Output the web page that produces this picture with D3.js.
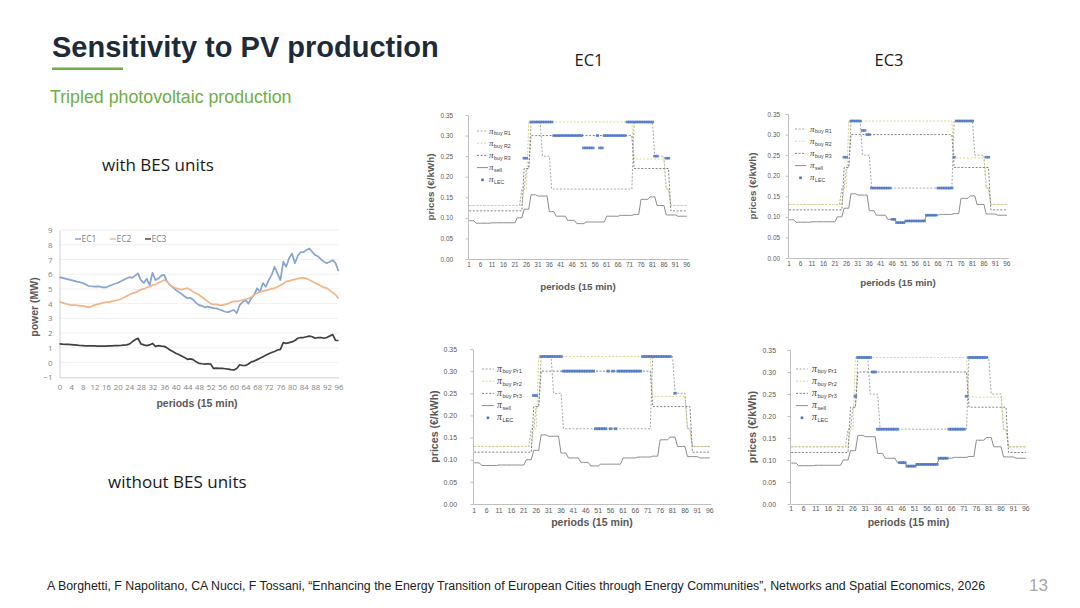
<!DOCTYPE html>
<html>
<head>
<meta charset="utf-8">
<script src="https://cdn.jsdelivr.net/npm/d3@7"></script>
<style>
  html, body { margin: 0; padding: 0; background: #fff; }
  svg { display: block; font-family: "Liberation Sans", Arial, sans-serif; }
</style>
</head>
<body>
<svg id="slide" width="1080" height="608"></svg>
<script>
// ---- data ---------------------------------------------------------------

// power chart (left): periods 0..96
const powerPeriods = d3.range(0, 97);
const powerXTicks = [0, 4, 8, 12, 16, 20, 24, 28, 32, 36, 40, 44, 48, 52, 56, 60, 64, 68, 72, 76, 80, 84, 88, 92, 96];
const powerYTicks = [-1, 0, 1, 2, 3, 4, 5, 6, 7, 8, 9];
const powerSeries = ["EC1", "EC2", "EC3"];

const ec1 = [5.8, 5.75, 5.7, 5.65, 5.6, 5.55, 5.5, 5.45, 5.4, 5.3, 5.2, 5.18, 5.15,
  5.17, 5.15, 5.1, 5.1, 5.2, 5.27, 5.35, 5.4, 5.5, 5.6, 5.7, 5.8, 5.75,
  5.9, 6.05, 5.6, 5.4, 5.7, 5.25, 6.1, 5.6, 5.7, 5.9, 5.95, 5.5, 5.27,
  5.1, 4.93, 4.8, 4.66, 4.5, 4.37, 4.4, 4.25, 4.05, 3.9, 3.85, 3.75, 3.8,
  3.75, 3.7, 3.68, 3.6, 3.53, 3.45, 3.42, 3.5, 3.57, 3.35, 3.9, 4.1, 4.25,
  4.0, 4.37, 4.6, 5.05, 4.8, 5.4, 5.15, 5.6, 5.95, 6.5, 6.05, 5.6, 6.85,
  6.5, 7.08, 7.4, 6.75, 7.25, 7.5, 7.5, 7.65, 7.75, 7.5, 7.3, 7.2, 7.0,
  6.85, 6.75, 6.85, 6.95, 6.75, 6.2];
const ec2 = [4.15, 4.05, 4.0, 3.95, 3.9, 3.9, 3.88, 3.85, 3.85, 3.8, 3.75, 3.8, 3.9,
  3.95, 4.0, 4.05, 4.1, 4.1, 4.15, 4.2, 4.25, 4.3, 4.4, 4.5, 4.6, 4.7,
  4.75, 4.85, 4.95, 5.0, 5.1, 5.15, 5.27, 5.3, 5.4, 5.5, 5.6, 5.5, 5.27,
  5.15, 5.05, 5.0, 4.95, 5.0, 5.05, 4.95, 4.8, 4.7, 4.6, 4.45, 4.3, 4.15,
  4.0, 3.95, 3.95, 3.9, 3.9, 3.95, 4.0, 4.1, 4.15, 4.15, 4.2, 4.25, 4.3,
  4.35, 4.45, 4.6, 4.7, 4.8, 4.85, 4.9, 4.95, 5.0, 5.05, 5.15, 5.25, 5.35,
  5.5, 5.55, 5.6, 5.65, 5.7, 5.75, 5.75, 5.7, 5.6, 5.5, 5.4, 5.3, 5.2,
  5.1, 5.05, 4.9, 4.75, 4.6, 4.35];
const ec3 = [1.27, 1.25, 1.24, 1.23, 1.22, 1.2, 1.18, 1.16, 1.15, 1.14, 1.13, 1.13, 1.13,
  1.12, 1.12, 1.12, 1.12, 1.13, 1.14, 1.15, 1.15, 1.16, 1.18, 1.2, 1.25, 1.4,
  1.55, 1.65, 1.27, 1.2, 1.15, 1.2, 1.3, 1.1, 1.15, 1.12, 1.1, 1.0, 0.85,
  0.75, 0.63, 0.55, 0.45, 0.35, 0.22, 0.25, 0.2, 0.05, -0.05, -0.08, -0.1, -0.08,
  -0.1, -0.4, -0.38, -0.4, -0.4, -0.42, -0.45, -0.48, -0.5, -0.4, -0.15, -0.2, -0.2,
  -0.1, 0.05, 0.1, 0.2, 0.3, 0.4, 0.5, 0.6, 0.68, 0.75, 0.85, 0.9, 1.35,
  1.3, 1.35, 1.4, 1.5, 1.65, 1.7, 1.7, 1.75, 1.8, 1.75, 1.65, 1.7, 1.7,
  1.65, 1.7, 1.8, 1.9, 1.5, 1.5];

// price charts: periods 1..96 (category axis)
const pricePeriods = d3.range(1, 97);
const priceXTicks = [1, 6, 11, 16, 21, 26, 31, 36, 41, 46, 51, 56, 61, 66, 71, 76, 81, 86, 91, 96];
const priceYTicks = [0, 0.05, 0.10, 0.15, 0.20, 0.25, 0.30, 0.35];

// buy / sell prices, same in all four price charts (12 periods per row)
const buy1 = [
  0.13, 0.13, 0.13, 0.13, 0.13, 0.13, 0.13, 0.13, 0.13, 0.13, 0.13, 0.13,
  0.13, 0.13, 0.13, 0.13, 0.13, 0.13, 0.13, 0.13, 0.13, 0.13, 0.13, 0.17,
  0.17, 0.22, 0.22, 0.333, 0.333, 0.333, 0.333, 0.333, 0.25, 0.25, 0.25, 0.25,
  0.17, 0.17, 0.17, 0.17, 0.17, 0.17, 0.17, 0.17, 0.17, 0.17, 0.17, 0.17,
  0.17, 0.17, 0.17, 0.17, 0.17, 0.17, 0.17, 0.17, 0.17, 0.17, 0.17, 0.17,
  0.17, 0.17, 0.17, 0.17, 0.17, 0.17, 0.17, 0.17, 0.17, 0.17, 0.17, 0.17,
  0.333, 0.333, 0.333, 0.333, 0.333, 0.333, 0.333, 0.333, 0.333, 0.25, 0.25, 0.25,
  0.25, 0.25, 0.17, 0.17, 0.13, 0.13, 0.13, 0.13, 0.13, 0.13, 0.13, 0.13];
const buy2 = [
  0.13, 0.13, 0.13, 0.13, 0.13, 0.13, 0.13, 0.13, 0.13, 0.13, 0.13, 0.13,
  0.13, 0.13, 0.13, 0.13, 0.13, 0.13, 0.13, 0.13, 0.13, 0.13, 0.13, 0.13,
  0.17, 0.17, 0.333, 0.333, 0.333, 0.333, 0.333, 0.333, 0.333, 0.333, 0.333, 0.333,
  0.333, 0.333, 0.333, 0.333, 0.333, 0.333, 0.333, 0.333, 0.333, 0.333, 0.333, 0.333,
  0.333, 0.333, 0.333, 0.333, 0.333, 0.333, 0.333, 0.333, 0.333, 0.333, 0.333, 0.333,
  0.333, 0.333, 0.333, 0.333, 0.333, 0.333, 0.333, 0.333, 0.333, 0.333, 0.333, 0.333,
  0.243, 0.243, 0.243, 0.243, 0.243, 0.243, 0.243, 0.243, 0.243, 0.243, 0.243, 0.243,
  0.243, 0.243, 0.17, 0.17, 0.13, 0.13, 0.13, 0.13, 0.13, 0.13, 0.13, 0.13];
const buy3 = [
  0.117, 0.117, 0.117, 0.117, 0.117, 0.117, 0.117, 0.117, 0.117, 0.117, 0.117, 0.117,
  0.117, 0.117, 0.117, 0.117, 0.117, 0.117, 0.117, 0.117, 0.117, 0.117, 0.117, 0.117,
  0.22, 0.22, 0.22, 0.30, 0.30, 0.30, 0.30, 0.30, 0.30, 0.30, 0.30, 0.30,
  0.30, 0.30, 0.30, 0.30, 0.30, 0.30, 0.30, 0.30, 0.30, 0.30, 0.30, 0.30,
  0.30, 0.30, 0.30, 0.30, 0.30, 0.30, 0.30, 0.30, 0.30, 0.30, 0.30, 0.30,
  0.30, 0.30, 0.30, 0.30, 0.30, 0.30, 0.30, 0.30, 0.30, 0.30, 0.30, 0.30,
  0.22, 0.22, 0.22, 0.22, 0.22, 0.22, 0.22, 0.22, 0.22, 0.22, 0.22, 0.22,
  0.22, 0.22, 0.22, 0.22, 0.117, 0.117, 0.117, 0.117, 0.117, 0.117, 0.117, 0.117];
const sell = [
  0.093, 0.093, 0.093, 0.087, 0.087, 0.087, 0.087, 0.087, 0.087, 0.087, 0.088, 0.088,
  0.088, 0.088, 0.088, 0.088, 0.088, 0.088, 0.088, 0.088, 0.088, 0.10, 0.10, 0.10,
  0.121, 0.121, 0.121, 0.156, 0.156, 0.156, 0.153, 0.153, 0.153, 0.153, 0.153, 0.115,
  0.115, 0.115, 0.104, 0.104, 0.104, 0.104, 0.104, 0.094, 0.094, 0.094, 0.094, 0.086,
  0.086, 0.086, 0.086, 0.09, 0.09, 0.09, 0.09, 0.09, 0.09, 0.09, 0.09, 0.09,
  0.104, 0.104, 0.104, 0.104, 0.104, 0.104, 0.106, 0.106, 0.106, 0.106, 0.106, 0.106,
  0.108, 0.108, 0.108, 0.145, 0.145, 0.145, 0.145, 0.151, 0.151, 0.151, 0.13, 0.13,
  0.13, 0.13, 0.107, 0.107, 0.107, 0.107, 0.107, 0.104, 0.104, 0.104, 0.104, 0.104];

// local energy community price, one per chart (null = no marker)
const lecEC1Bes = [
  null, null, null, null, null, null, null, null, null, null, null, null,
  null, null, null, null, null, null, null, null, null, null, null, null,
  0.245, 0.245, null, 0.333, 0.333, 0.333, 0.333, 0.333, 0.333, 0.333, 0.333, 0.333,
  0.333, 0.30, 0.30, 0.30, 0.30, 0.30, 0.30, 0.30, 0.30, 0.30, 0.30, 0.30,
  0.30, 0.30, 0.27, 0.27, 0.27, 0.27, 0.27, null, 0.30, 0.27, 0.27, 0.30,
  0.30, 0.30, 0.30, 0.30, 0.30, 0.30, 0.30, 0.30, 0.30, 0.333, 0.333, 0.333,
  0.333, 0.333, 0.333, 0.333, 0.333, 0.333, 0.333, 0.333, 0.333, 0.25, 0.25, null,
  null, null, 0.245, 0.245, null, null, null, null, null, null, null, null];
const lecEC3Bes = [
  null, null, null, null, null, null, null, null, null, null, null, null,
  null, null, null, null, null, null, null, null, null, null, null, null,
  0.245, 0.245, null, 0.333, 0.333, 0.333, 0.333, 0.333, 0.31, 0.31, 0.30, 0.30,
  0.17, 0.17, 0.17, 0.17, 0.17, 0.17, 0.17, 0.17, 0.17, 0.094, 0.094, 0.086,
  0.086, 0.086, 0.086, 0.09, 0.09, 0.09, 0.09, 0.09, 0.09, 0.09, 0.09, 0.09,
  0.104, 0.104, 0.104, 0.104, 0.104, 0.17, 0.17, 0.17, 0.17, 0.17, 0.17, 0.17,
  0.245, 0.333, 0.333, 0.333, 0.333, 0.333, 0.333, 0.333, 0.333, null, null, null,
  null, null, 0.245, 0.245, null, null, null, null, null, null, null, null];
const lecEC1NoBes = [
  null, null, null, null, null, null, null, null, null, null, null, null,
  null, null, null, null, null, null, null, null, null, null, null, null,
  0.245, 0.245, null, 0.333, 0.333, 0.333, 0.333, 0.333, 0.333, 0.333, 0.333, 0.333,
  0.30, 0.30, 0.30, 0.30, 0.30, 0.30, 0.30, 0.30, 0.30, 0.30, 0.30, 0.30,
  0.30, 0.17, 0.17, 0.17, 0.17, 0.17, 0.30, 0.17, 0.30, 0.17, 0.30, 0.30,
  0.30, 0.30, 0.30, 0.30, 0.30, 0.30, 0.30, 0.30, 0.333, 0.333, 0.333, 0.333,
  0.333, 0.333, 0.333, 0.333, 0.333, 0.333, 0.333, 0.333, null, 0.25, null, null,
  null, null, null, null, null, null, null, null, null, null, null, null];
const lecEC3NoBes = [
  null, null, null, null, null, null, null, null, null, null, null, null,
  null, null, null, null, null, null, null, null, null, null, null, null,
  null, null, 0.245, 0.333, 0.333, 0.333, 0.333, 0.333, 0.333, 0.30, 0.30, 0.17,
  0.17, 0.17, 0.17, 0.17, 0.17, 0.17, 0.17, 0.17, 0.094, 0.094, 0.094, 0.086,
  0.086, 0.086, 0.086, 0.09, 0.09, 0.09, 0.09, 0.09, 0.09, 0.09, 0.09, 0.09,
  0.104, 0.104, 0.104, 0.104, 0.17, 0.17, 0.17, 0.17, 0.17, 0.17, 0.17, 0.245,
  0.333, 0.333, 0.333, 0.333, 0.333, 0.333, 0.333, 0.333, null, null, null, null,
  null, null, null, null, null, null, null, null, null, null, null, null];

// ---- styles -------------------------------------------------------------

const GREEN = "#6fae45";
const AXIS = "#bfbfbf";
const LABEL = "#595959";
const powerColors = { EC1: "#86a3d2", EC2: "#f2b588", EC3: "#404040" };
const buyStyle = [
  { stroke: "#a6a6a6", dash: "2,1.6" },
  { stroke: "#dcd58a", dash: "2,1.6" },
  { stroke: "#7f7f7f", dash: "2,1.6" },
];
const SELL = "#8c8c8c";
const LEC = "#4a74c4";

const svg = d3.select("#slide");

// ---- slide text ---------------------------------------------------------

svg.append("text").attr("x", 52).attr("y", 57)
  .attr("font-size", 29).attr("font-weight", "bold").attr("fill", "#1c2b39")
  .text("Sensitivity to PV production");
svg.append("rect").attr("x", 52).attr("y", 67.5).attr("width", 71).attr("height", 2.5).attr("fill", GREEN);
svg.append("text").attr("x", 50).attr("y", 103)
  .attr("font-size", 17.8).attr("fill", GREEN)
  .text("Tripled photovoltaic production");

const side = svg.append("g").attr("font-family", "'Open Sans', 'Liberation Sans', sans-serif").attr("fill", "#1a1a1a");
side.append("text").attr("x", 589).attr("y", 66).attr("font-size", 16.5).attr("text-anchor", "middle").text("EC1");
side.append("text").attr("x", 889).attr("y", 66).attr("font-size", 16.5).attr("text-anchor", "middle").text("EC3");
side.append("text").attr("x", 102).attr("y", 171).attr("font-size", 17).text("with BES units");
side.append("text").attr("x", 108).attr("y", 488).attr("font-size", 17).text("without BES units");

svg.append("text").attr("x", 47).attr("y", 590)
  .attr("font-size", 12).attr("fill", "#222")
  .attr("textLength", 938).attr("lengthAdjust", "spacingAndGlyphs")
  .text("A Borghetti, F Napolitano, CA Nucci, F Tossani, \u201CEnhancing the Energy Transition of European Cities through Energy Communities\u201D, Networks and Spatial Economics, 2026");
svg.append("text").attr("x", 1048).attr("y", 591).attr("text-anchor", "end")
  .attr("font-size", 17).attr("fill", "#a6a6a6").text("13");

// ---- power chart --------------------------------------------------------

function drawPower() {
  const g = svg.append("g");
  const x = d3.scaleLinear().domain([0, 96]).range([59.5, 338.5]);
  const y = d3.scaleLinear().domain([-1, 9]).range([377.3, 230]);

  g.append("g").selectAll("line").data(powerYTicks.slice(1)).join("line")
    .attr("x1", x(0)).attr("x2", x(96)).attr("y1", (d) => y(d)).attr("y2", (d) => y(d))
    .attr("stroke", "#eeeeee").attr("stroke-width", 0.8);

  g.append("g").attr("transform", `translate(${x(0)},0)`)
    .call(d3.axisLeft(y).tickValues(powerYTicks).tickSize(0).tickPadding(7).tickFormat(d3.format("d")))
    .call((a) => a.select(".domain").attr("stroke", "#d0d0d0"))
    .call((a) => a.selectAll("text").attr("font-size", 8).attr("fill", "#7f7f7f").attr("font-family", "'Open Sans', sans-serif"));

  g.append("g").attr("transform", `translate(0,${y(-1)})`)
    .call(d3.axisBottom(x).tickValues(powerXTicks).tickSize(0).tickPadding(7).tickFormat(d3.format("d")))
    .call((a) => a.select(".domain").attr("stroke", "#d0d0d0"))
    .call((a) => a.selectAll("text").attr("font-size", 7.8).attr("fill", "#7f7f7f").attr("font-family", "'Open Sans', sans-serif"));

  const line = d3.line().x((d, i) => x(powerPeriods[i])).y((d) => y(d));
  const series = { EC1: ec1, EC2: ec2, EC3: ec3 };
  powerSeries.forEach((k) => {
    g.append("path").datum(series[k])
      .attr("fill", "none").attr("stroke", powerColors[k]).attr("stroke-width", 1.7)
      .attr("stroke-linejoin", "round").attr("d", line);
  });

  const legX = [75, 110, 145];
  powerSeries.forEach((k, i) => {
    g.append("line").attr("x1", legX[i]).attr("x2", legX[i] + 6).attr("y1", 239).attr("y2", 239)
      .attr("stroke", powerColors[k]).attr("stroke-width", 1.4);
    g.append("text").attr("x", legX[i] + 6.5).attr("y", 242).attr("font-size", 8.5)
      .attr("fill", "#7f7f7f").attr("font-family", "'Open Sans', sans-serif").text(k);
  });

  g.append("text").attr("x", 197).attr("y", 406.5).attr("text-anchor", "middle")
    .attr("font-size", 10.5).attr("font-weight", "bold").attr("fill", LABEL).text("periods (15 min)");
  g.append("text").attr("transform", "translate(38,307) rotate(-90)").attr("text-anchor", "middle")
    .attr("font-size", 10.5).attr("font-weight", "bold").attr("fill", LABEL).text("power (MW)");
}

// ---- price charts -------------------------------------------------------

const priceCharts = [
  { lec: lecEC1Bes, tag: "R", x0: 468, x1: 688, yT: 115, yB: 259, s: 1, yLabR: 453, yTitX: 431, xLabY: 271.5, xTitY: 289.5, legY: 131, legSX: 477, legTX: 489 },
  { lec: lecEC3Bes, tag: "R", x0: 788, x1: 1008, yT: 114, yB: 258, s: 1, yLabR: 780, yTitX: 753, xLabY: 270.5, xTitY: 285.5, legY: 129, legSX: 795, legTX: 810 },
  { lec: lecEC1NoBes, tag: "Pr", x0: 473, x1: 711, yT: 349, yB: 504, s: 1.08, yLabR: 457, yTitX: 435, xLabY: 518, xTitY: 526, legY: 369, legSX: 482, legTX: 497 },
  { lec: lecEC3NoBes, tag: "Pr", x0: 790, x1: 1027, yT: 350, yB: 504, s: 1.08, yLabR: 776, yTitX: 753, xLabY: 516.5, xTitY: 526, legY: 369, legSX: 796, legTX: 812 },
];

function drawPrice(c) {
  const g = svg.append("g");
  const x = d3.scaleBand().domain(pricePeriods).range([c.x0, c.x1]);
  const bw = x.bandwidth();
  const cx = (p) => x(p) + bw / 2;
  const y = d3.scaleLinear().domain([0, 0.35]).range([c.yB, c.yT]);
  const fs = 6.4 * c.s;

  g.append("g").attr("transform", `translate(${c.x0},0)`)
    .call(d3.axisLeft(y).tickValues(priceYTicks).tickSizeInner(2.5).tickSizeOuter(0)
      .tickPadding(c.x0 - c.yLabR - 2.5).tickFormat(d3.format(".2f")))
    .call((a) => a.selectAll("path,line").attr("stroke", AXIS))
    .call((a) => a.selectAll("text").attr("font-size", fs).attr("fill", LABEL));

  g.append("g").attr("transform", `translate(0,${c.yB})`)
    .call(d3.axisBottom(x).tickValues(priceXTicks).tickSize(0).tickPadding(c.xLabY - c.yB - fs * 0.75))
    .call((a) => a.select(".domain").attr("stroke", AXIS))
    .call((a) => a.selectAll("text").attr("font-size", fs).attr("fill", LABEL).attr("dy", 0).attr("dominant-baseline", "auto"));

  const line = d3.line().defined((d) => d != null).x((d, i) => cx(pricePeriods[i])).y((d) => y(d));

  g.append("path").datum(sell).attr("fill", "none").attr("stroke", SELL).attr("stroke-width", 1).attr("d", line);
  [buy1, buy2, buy3].forEach((b, i) => {
    g.append("path").datum(b).attr("fill", "none")
      .attr("stroke", buyStyle[i].stroke).attr("stroke-width", 1)
      .attr("stroke-dasharray", buyStyle[i].dash).attr("d", line);
  });

  const pts = pricePeriods.map((p, i) => ({ p, v: c.lec[i] })).filter((d) => d.v != null);
  g.append("g").selectAll("rect").data(pts).join("rect")
    .attr("x", (d) => cx(d.p) - 1.6 * c.s).attr("width", 3.2 * c.s)
    .attr("y", (d) => y(d.v) - 1.3 * c.s).attr("height", 2.6 * c.s)
    .attr("fill", LEC).attr("opacity", 0.85);

  // legend
  const items = [
    { sub: `buy ${c.tag}1`, type: "dash", st: buyStyle[0] },
    { sub: `buy ${c.tag}2`, type: "dash", st: buyStyle[1] },
    { sub: `buy ${c.tag}3`, type: "dash", st: buyStyle[2] },
    { sub: "sell", type: "solid" },
    { sub: "LEC", type: "marker" },
  ];
  const dy = 12.2;
  items.forEach((it, i) => {
    const yy = c.legY + i * dy;
    const w = 11 * c.s;
    if (it.type === "dash") {
      g.append("line").attr("x1", c.legSX).attr("x2", c.legSX + w).attr("y1", yy).attr("y2", yy)
        .attr("stroke", it.st.stroke).attr("stroke-width", 1).attr("stroke-dasharray", it.st.dash);
    } else if (it.type === "solid") {
      g.append("line").attr("x1", c.legSX).attr("x2", c.legSX + w).attr("y1", yy).attr("y2", yy)
        .attr("stroke", SELL).attr("stroke-width", 1);
    } else {
      g.append("rect").attr("x", c.legSX + w / 2 - 1.3).attr("y", yy - 1.3).attr("width", 2.6).attr("height", 2.6)
        .attr("fill", LEC);
    }
    const t = g.append("text").attr("x", c.legTX).attr("y", yy + 2.5).attr("fill", "#404040");
    t.append("tspan").attr("font-family", "'Liberation Serif', 'DejaVu Serif', serif").attr("font-style", "italic")
      .attr("font-size", 9 * c.s).text("\u03C0");
    t.append("tspan").attr("font-size", 5.2 * c.s).attr("dy", 1.8 * c.s).attr("dx", 0.6).text(it.sub);
  });

  g.append("text").attr("x", (c.x0 + c.x1) / 2).attr("y", c.xTitY).attr("text-anchor", "middle")
    .attr("font-size", 9.8 * c.s).attr("font-weight", "bold").attr("fill", LABEL).text("periods (15 min)");
  g.append("text").attr("transform", `translate(${c.yTitX},${(c.yT + c.yB) / 2}) rotate(-90)`)
    .attr("text-anchor", "middle").attr("dominant-baseline", "middle")
    .attr("font-size", 9.8 * c.s).attr("font-weight", "bold").attr("fill", LABEL).text("prices (\u20AC/kWh)");
}

drawPower();
priceCharts.forEach(drawPrice);
</script>
</body>
</html>
